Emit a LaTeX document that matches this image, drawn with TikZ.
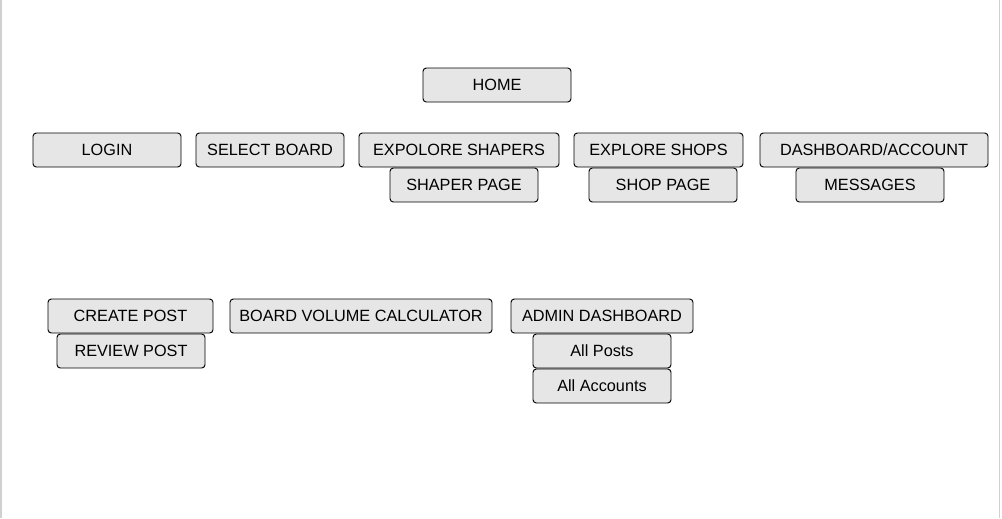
\documentclass[tikz,border=0pt]{standalone}
\usepackage{fontspec}
\setmainfont{Liberation Sans}
\usetikzlibrary{positioning}
\definecolor{boxgray}{HTML}{E6E6E6}
\definecolor{edgegray}{HTML}{D0D0D0}

\begin{document}
\begin{tikzpicture}[
  x=0.75pt,
  y=-0.75pt,
  page/.style={draw=edgegray,line width=1.2pt},
  btn/.style={draw,fill=boxgray,rounded corners=2.5pt,line width=0.7pt,
    minimum height=25.5pt,inner sep=0pt,text height=9.6pt,text depth=1.4pt,
    font=\fontsize{12.2}{14}\selectfont},
  wide/.style={btn,minimum width=111pt},
]
\useasboundingbox (0,0) rectangle (1002,518);
\draw[page] (0.8,0) -- (0.8,518);
\draw[page] (999.5,0) -- (999.5,518);

% top
\node[wide] (home) at (497,85) {HOME};

% row 1
\node[wide] (login) at (107,150) {LOGIN};
\node[wide] (select) at (270,150) {SELECT BOARD};
\node[btn,minimum width=150pt] (shapers) at (459,150) {EXPOLORE SHAPERS};
\node[btn,minimum width=126.75pt] (shops) at (658.5,150) {EXPLORE SHOPS};
\node[btn,minimum width=171pt] (dash) at (874,150) {DASHBOARD/ACCOUNT};

% row 1, sub pages
\node[wide] (shaperpage) at (464,185) {SHAPER PAGE};
\node[wide] (shoppage) at (663,185) {SHOP PAGE};
\node[wide] (messages) at (870,185) {MESSAGES};

% row 2
\node[btn,minimum width=123.75pt] (create) at (130.5,316) {CREATE POST};
\node[wide] (review) at (131,351) {REVIEW POST};
\node[btn,minimum width=196.5pt] (volume) at (361,316) {BOARD VOLUME CALCULATOR};
\node[btn,minimum width=136.5pt] (admin) at (602,316) {ADMIN DASHBOARD};
\node[btn,minimum width=103.5pt] (posts) at (602,351) {All Posts};
\node[btn,minimum width=103.5pt] (accounts) at (602,386) {All Accounts};
\end{tikzpicture}
\end{document}
